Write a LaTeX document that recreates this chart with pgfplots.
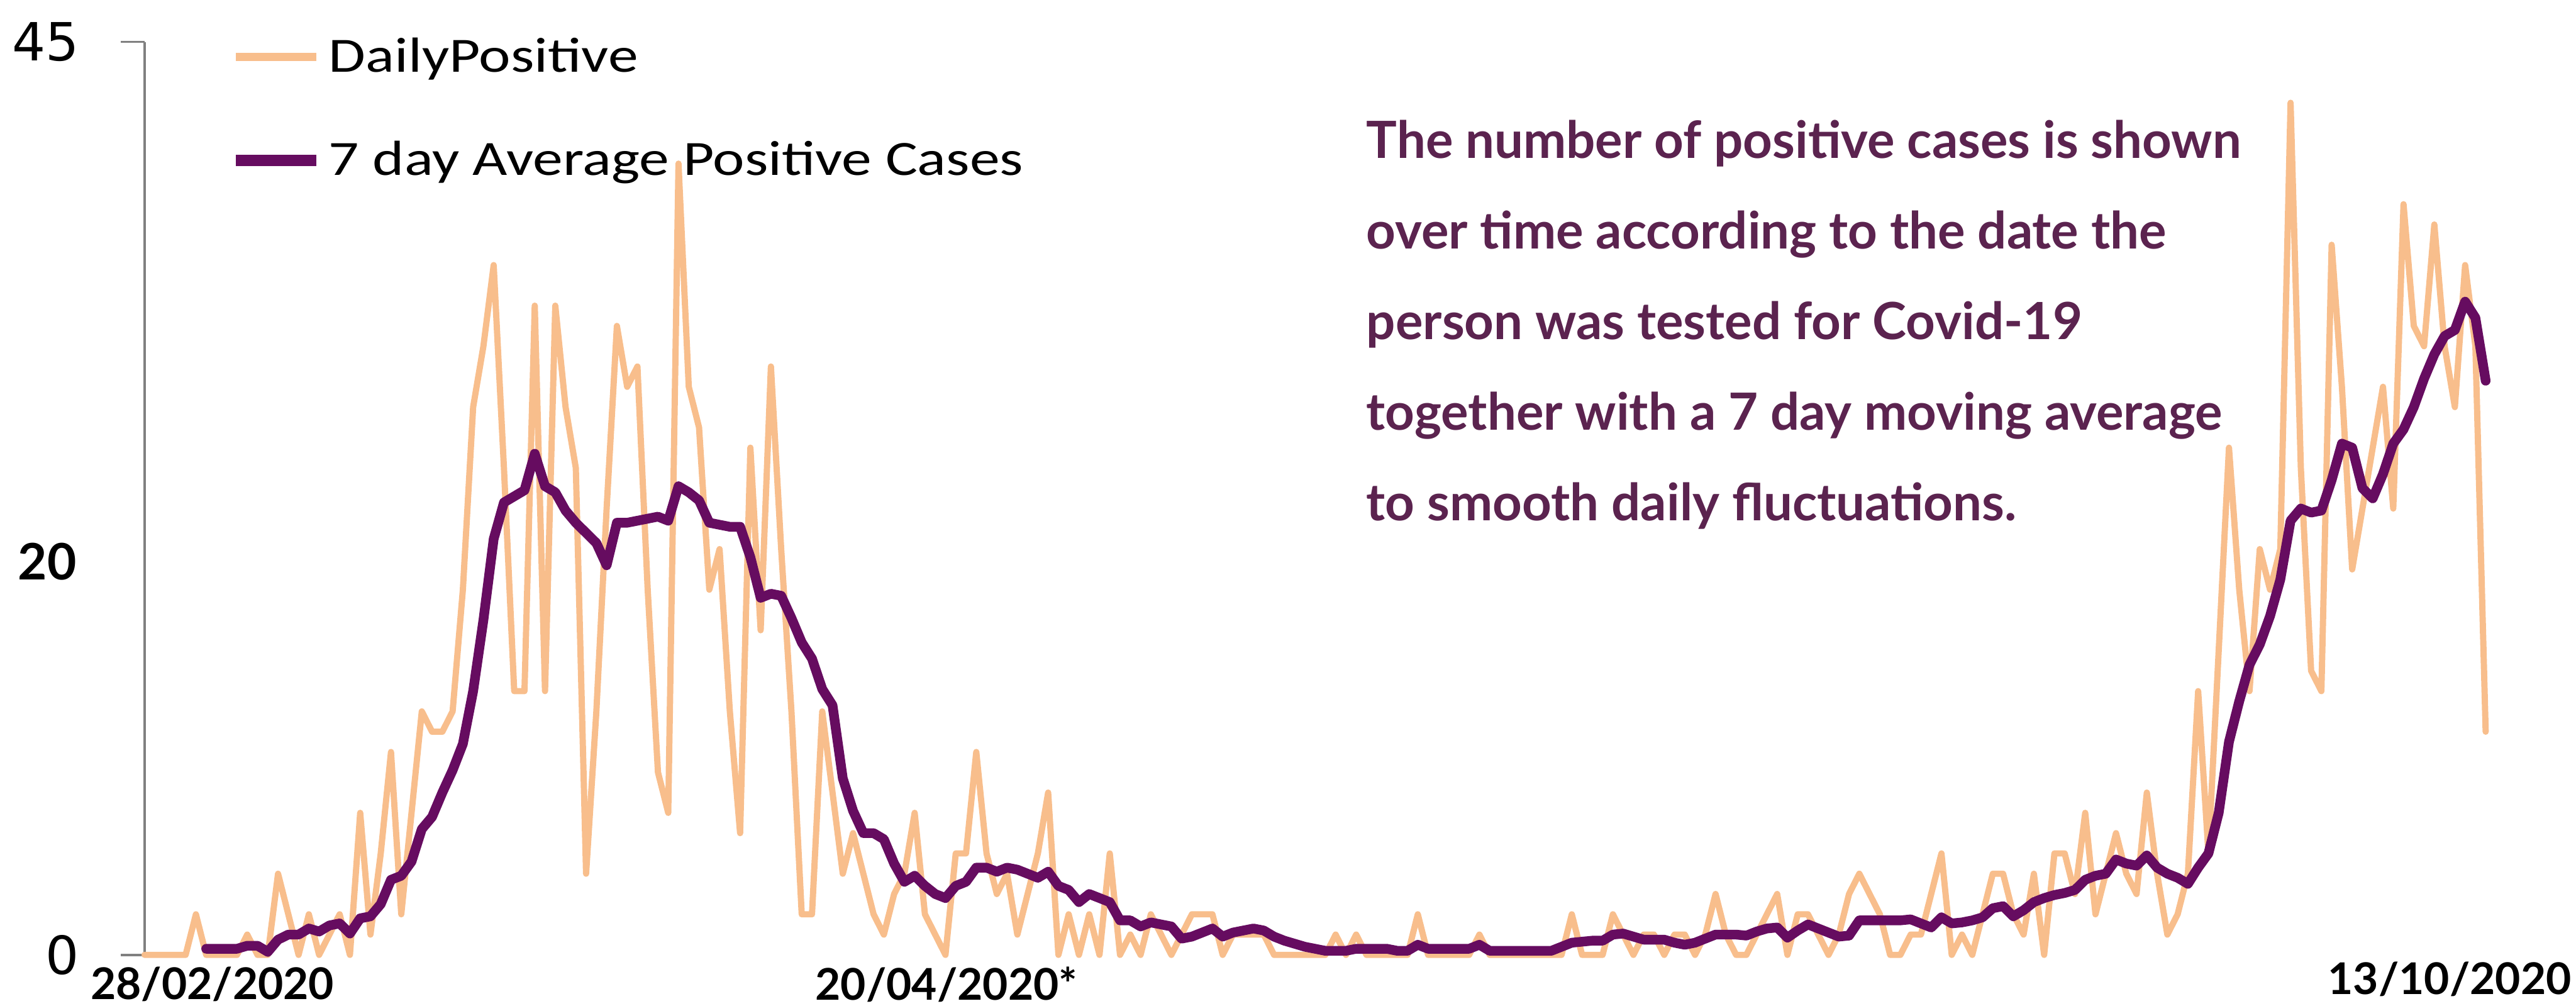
\documentclass[border=0pt]{standalone}
\usepackage{fontspec}
\usepackage{pgfplots}
\pgfplotsset{compat=1.18}
\newfontfamily\lato{Lato}
\newfontfamily\carl{Carlito}[FakeStretch=1.22]
\newfontfamily\dejavu{DejaVu Sans}
\definecolor{dailyc}{RGB}{248,190,140}
\definecolor{avgc}{RGB}{102,12,96}
\definecolor{notec}{RGB}{91,35,79}
\definecolor{axisgray}{RGB}{128,128,128}
\begin{document}
\begin{tikzpicture}
\useasboundingbox (-44pt,-15.5pt) rectangle (740pt,290.5pt);
\begin{axis}[
  at={(0pt,0pt)}, anchor=south west,
  scale only axis, width=712.5pt, height=277.75pt,
  xmin=0, xmax=228, ymin=0, ymax=45,
  clip=false,
  axis lines=left, axis line style={-},
  x axis line style={draw=none},
  y axis line style={draw=axisgray, line width=0.7pt},
  tick align=outside,
  major tick length=7.2pt,
  ytick={0,45},
  yticklabels={{\dejavu\fontsize{16}{18}\selectfont 0},{\dejavu\fontsize{16}{18}\selectfont 45}},
  ytick style={draw=axisgray, line width=0.7pt},
  yticklabel style={anchor=east, inner sep=0pt, xshift=-12.5pt},
  extra y ticks={20},
  extra y tick labels={{\lato\bfseries\fontsize{15.3}{17}\selectfont 20}},
  extra y tick style={major tick length=0pt, yticklabel style={xshift=-8pt, yshift=-3.7pt}},
  xtick={6.6,78.1},
  xticklabels={28/02/2020,20/04/2020*},
  extra x ticks={224.5},
  extra x tick labels={13/10/2020},
  extra x tick style={xticklabel style={yshift=1.5pt}},
  xtick style={draw=none},
  xticklabel style={font=\lato\bfseries\fontsize{13.3}{15}\selectfont, anchor=north, inner sep=0pt, yshift=3.8pt},
  legend style={at={(axis description cs:0.0363,1.0126)}, anchor=north west,
    draw=none, fill=none, inner sep=0pt, row sep=15.5pt,
    font=\carl\fontsize{15}{18}\selectfont,
    /tikz/every odd column/.append style={column sep=0pt}},
  legend cell align=left,
  legend image code/.code={\draw[#1,line cap=butt] (0pt,0pt) -- (24.5pt,0pt);},
]
\addplot[dailyc, line width=1.9pt, line join=round, line cap=round, legend image post style={line width=2.5pt}] coordinates {
(0,0)(1,0)(2,0)(3,0)(4,0)(5,2)(6,0)(7,0)(8,0)(9,0)
(10,1)(11,0)(12,0)(13,4)(14,2)(15,0)(16,2)(17,0)(18,1)(19,2)
(20,0)(21,7)(22,1)(23,5)(24,10)(25,2)(26,7)(27,12)(28,11)(29,11)
(30,12)(31,18)(32,27)(33,30)(34,34)(35,24)(36,13)(37,13)(38,32)(39,13)
(40,32)(41,27)(42,24)(43,4)(44,12)(45,22)(46,31)(47,28)(48,29)(49,18)
(50,9)(51,7)(52,39)(53,28)(54,26)(55,18)(56,20)(57,12)(58,6)(59,25)
(60,16)(61,29)(62,20)(63,12)(64,2)(65,2)(66,12)(67,8)(68,4)(69,6)
(70,4)(71,2)(72,1)(73,3)(74,4)(75,7)(76,2)(77,1)(78,0)(79,5)
(80,5)(81,10)(82,5)(83,3)(84,4)(85,1)(86,3)(87,5)(88,8)(89,0)
(90,2)(91,0)(92,2)(93,0)(94,5)(95,0)(96,1)(97,0)(98,2)(99,1)
(100,0)(101,1)(102,2)(103,2)(104,2)(105,0)(106,1)(107,1)(108,1)(109,1)
(110,0)(111,0)(112,0)(113,0)(114,0)(115,0)(116,1)(117,0)(118,1)(119,0)
(120,0)(121,0)(122,0)(123,0)(124,2)(125,0)(126,0)(127,0)(128,0)(129,0)
(130,1)(131,0)(132,0)(133,0)(134,0)(135,0)(136,0)(137,0)(138,0)(139,2)
(140,0)(141,0)(142,0)(143,2)(144,1)(145,0)(146,1)(147,1)(148,0)(149,1)
(150,1)(151,0)(152,1)(153,3)(154,1)(155,0)(156,0)(157,1)(158,2)(159,3)
(160,0)(161,2)(162,2)(163,1)(164,0)(165,1)(166,3)(167,4)(168,3)(169,2)
(170,0)(171,0)(172,1)(173,1)(174,3)(175,5)(176,0)(177,1)(178,0)(179,2)
(180,4)(181,4)(182,2)(183,1)(184,4)(185,0)(186,5)(187,5)(188,3)(189,7)
(190,2)(191,4)(192,6)(193,4)(194,3)(195,8)(196,4)(197,1)(198,2)(199,4)
(200,13)(201,5)(202,15)(203,25)(204,18)(205,13)(206,20)(207,18)(208,20)(209,42)
(210,24)(211,14)(212,13)(213,35)(214,28)(215,19)(216,22)(217,25)(218,28)(219,22)
(220,37)(221,31)(222,30)(223,36)(224,30)(225,27)(226,34)(227,30)(228,11)
};
\addlegendentry{DailyPositive}
\addplot[avgc, line width=2.95pt, line join=round, line cap=round, legend image post style={line width=3.5pt}] coordinates {
(6,0.3)(7,0.3)(8,0.3)(9,0.3)
(10,0.45)(11,0.45)(12,0.15)(13,0.75)(14,1.0)(15,1.0)(16,1.3)(17,1.15)(18,1.45)(19,1.55)
(20,1.05)(21,1.8)(22,1.9)(23,2.5)(24,3.7)(25,3.9)(26,4.6)(27,6.2)(28,6.8)(29,8.0)
(30,9.1)(31,10.4)(32,13.0)(33,16.5)(34,20.5)(35,22.3)(36,22.6)(37,22.9)(38,24.7)(39,23.1)
(40,22.8)(41,21.9)(42,21.3)(43,20.8)(44,20.3)(45,19.2)(46,21.3)(47,21.3)(48,21.4)(49,21.5)
(50,21.6)(51,21.4)(52,23.1)(53,22.8)(54,22.4)(55,21.3)(56,21.2)(57,21.1)(58,21.1)(59,19.6)
(60,17.6)(61,17.8)(62,17.7)(63,16.6)(64,15.4)(65,14.6)(66,13.1)(67,12.3)(68,8.7)(69,7.1)
(70,6.0)(71,6.0)(72,5.7)(73,4.5)(74,3.6)(75,3.9)(76,3.4)(77,3.0)(78,2.8)(79,3.4)
(80,3.6)(81,4.3)(82,4.3)(83,4.1)(84,4.3)(85,4.2)(86,4.0)(87,3.8)(88,4.1)(89,3.4)
(90,3.2)(91,2.6)(92,3.0)(93,2.8)(94,2.6)(95,1.7)(96,1.7)(97,1.4)(98,1.6)(99,1.5)
(100,1.4)(101,0.8)(102,0.9)(103,1.1)(104,1.3)(105,0.9)(106,1.1)(107,1.2)(108,1.3)(109,1.2)
(110,0.9)(111,0.7)(112,0.55)(113,0.4)(114,0.3)(115,0.2)(116,0.2)(117,0.2)(118,0.3)(119,0.3)
(120,0.3)(121,0.3)(122,0.2)(123,0.2)(124,0.5)(125,0.3)(126,0.3)(127,0.3)(128,0.3)(129,0.3)
(130,0.5)(131,0.2)(132,0.2)(133,0.2)(134,0.2)(135,0.2)(136,0.2)(137,0.2)(138,0.4)(139,0.6)
(140,0.65)(141,0.7)(142,0.7)(143,1.0)(144,1.05)(145,0.9)(146,0.75)(147,0.75)(148,0.75)(149,0.6)
(150,0.5)(151,0.6)(152,0.8)(153,1.0)(154,1.0)(155,1.0)(156,0.95)(157,1.15)(158,1.3)(159,1.35)
(160,0.85)(161,1.2)(162,1.5)(163,1.3)(164,1.1)(165,0.9)(166,0.95)(167,1.7)(168,1.7)(169,1.7)
(170,1.7)(171,1.7)(172,1.75)(173,1.55)(174,1.35)(175,1.85)(176,1.55)(177,1.6)(178,1.7)(179,1.85)
(180,2.3)(181,2.4)(182,1.9)(183,2.2)(184,2.6)(185,2.8)(186,2.95)(187,3.05)(188,3.2)(189,3.7)
(190,3.9)(191,4.0)(192,4.7)(193,4.5)(194,4.4)(195,4.9)(196,4.3)(197,4.0)(198,3.8)(199,3.5)
(200,4.3)(201,5.0)(202,7.0)(203,10.5)(204,12.5)(205,14.3)(206,15.3)(207,16.7)(208,18.5)(209,21.4)
(210,22.0)(211,21.8)(212,21.9)(213,23.4)(214,25.2)(215,25.0)(216,23.0)(217,22.5)(218,23.7)(219,25.2)
(220,25.9)(221,27.0)(222,28.4)(223,29.6)(224,30.5)(225,30.8)(226,32.2)(227,31.4)(228,28.3)
};
\addlegendentry{7 day Average Positive Cases}
\end{axis}
\begin{scope}[every node/.style={anchor=base west, inner sep=0pt, text=notec, font=\lato\bfseries\fontsize{15.6}{18}\selectfont}]
\node at (371.7pt,242.35pt) {The number of positive cases is shown};
\node at (371.7pt,214.8pt) {over time according to the date the};
\node at (371.7pt,187.25pt) {person was tested for Covid-19};
\node at (371.7pt,159.7pt) {together with a 7 day moving average};
\node at (371.7pt,132.15pt) {to smooth daily fluctuations.};
\end{scope}
\end{tikzpicture}
\end{document}
